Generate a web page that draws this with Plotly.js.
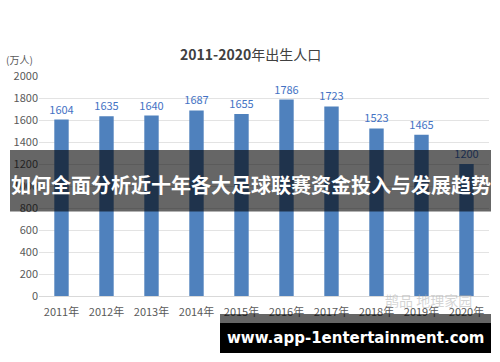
<!DOCTYPE html>
<html><head><meta charset="utf-8">
<script src="https://cdn.plot.ly/plotly-3.0.1.min.js"></script>
<style>body{margin:0;background:#fff}#c{width:500px;height:362px}</style>
</head><body><div id="c"></div>
<script>
var categories = ['2011年','2012年','2013年','2014年','2015年','2016年','2017年','2018年','2019年','2020年'];
var births = [1604,1635,1640,1687,1655,1786,1723,1523,1465,1200];
var yTicks = [0,200,400,600,800,1000,1200,1400,1600,1800,2000];
var titleText = '<b>2011-2020</b>年出生人口';
var unitText = '(万人)';
var bannerText = '<b>如何全面分析近十年各大足球联赛资金投入与发展趋势</b>';
var siteText = '<b>www.app-1entertainment.com</b>';
var watermarkText = '鹊品 地理家园';

var W=500,H=362,L=39,R=11,T=76,B=66;
var pw=W-L-R, ph=H-T-B;
function px(x){return (x-L)/pw;}
function py(y){return (H-B-y)/ph;}
var font='"Noto Sans CJK SC", "Noto Sans", sans-serif';

var trace = {type:'bar', x:categories, y:births, marker:{color:'#4f81bd'},
  texttemplate:'%{y}', textposition:'outside', cliponaxis:false, constraintext:'none',
  textfont:{color:'#4472c4', size:11, family:font}, hoverinfo:'none'};

var layout = {
  width:W, height:H, margin:{l:L,r:R,t:T,b:B},
  paper_bgcolor:'#fff', plot_bgcolor:'#fff', showlegend:false, bargap:0.68,
  font:{family:font, color:'#595959', size:11},
  xaxis:{type:'category', showgrid:false, showline:true, linecolor:'#d9d9d9', ticks:'', ticklabelstandoff:6, tickfont:{size:11,color:'#595959'}},
  yaxis:{range:[0,2000], tickvals:yTicks, showgrid:true, gridcolor:'#e3e3e3', zeroline:false, ticks:'', tickfont:{size:11,color:'#595959'}, ticklen:0},
  shapes:[
    {type:'rect', xref:'paper', yref:'paper', x0:px(10), x1:px(491), y0:py(211.6), y1:py(150), fillcolor:'rgba(0,0,0,0.6)', line:{width:0}, layer:'above'},
    {type:'rect', xref:'paper', yref:'paper', x0:px(220), x1:px(491), y0:py(323), y1:py(314), fillcolor:'rgba(0,0,0,0.6)', line:{width:0}, layer:'above'},
    {type:'rect', xref:'paper', yref:'paper', x0:px(220), x1:px(491), y0:py(353), y1:py(323), fillcolor:'#000', line:{width:0}, layer:'above'}
  ],
  annotations:[
    {xref:'paper', yref:'paper', x:px(250), y:py(54), text:titleText, showarrow:false, xanchor:'center', yanchor:'middle', font:{size:14, color:'#404040', family:font}},
    {xref:'paper', yref:'paper', x:px(4), y:py(60), text:unitText, showarrow:false, xanchor:'left', yanchor:'middle', font:{size:10, color:'#595959', family:font}},
    {xref:'paper', yref:'paper', x:px(428), y:py(300), text:watermarkText, showarrow:false, xanchor:'center', yanchor:'middle', font:{size:14, color:'rgba(170,170,170,0.5)', family:font}},
    {xref:'paper', yref:'paper', x:px(250.5), y:py(184.5), text:bannerText, showarrow:false, xanchor:'center', yanchor:'middle', font:{size:20, color:'#fff', family:font}},
    {xref:'paper', yref:'paper', x:px(355), y:py(338), text:siteText, showarrow:false, xanchor:'center', yanchor:'middle', font:{size:15, color:'#fff', family:'"DejaVu Sans", sans-serif'}}
  ]
};
Plotly.newPlot('c',[trace],layout,{displayModeBar:false,staticPlot:true});
</script></body></html>
